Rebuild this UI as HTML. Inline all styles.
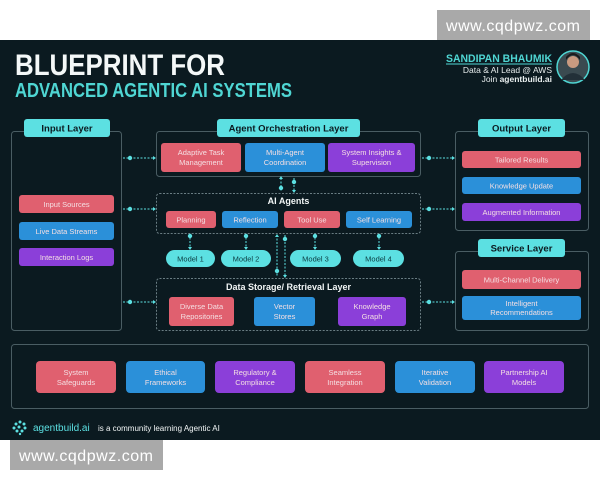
<!DOCTYPE html>
<html><head><meta charset="utf-8"><style>
html,body{margin:0;padding:0;width:600px;height:480px;overflow:hidden;background:#fff}
svg{display:block}
text{font-family:"Liberation Sans",sans-serif}
</style></head><body>
<svg width="600" height="480" viewBox="0 0 600 480" xmlns="http://www.w3.org/2000/svg">
<rect x="0" y="0" width="600" height="480" fill="#fff"/>
<rect x="0" y="40" width="600" height="400" fill="#0b1a20"/>
<!-- watermarks -->
<rect x="437" y="10" width="153" height="30" fill="#a9a9a9"/>
<text x="513" y="31" font-size="16" fill="#fff" text-anchor="middle" textLength="134">www.cqdpwz.com</text>
<rect x="10" y="440" width="153" height="30" fill="#a9a9a9"/>
<text x="86" y="461" font-size="16" fill="#fff" text-anchor="middle" textLength="134">www.cqdpwz.com</text>
<!-- title -->
<text x="15" y="75" font-size="30" font-weight="bold" fill="#f4f8f8" textLength="210" lengthAdjust="spacingAndGlyphs">BLUEPRINT FOR</text>
<text x="15" y="97" font-size="20" font-weight="bold" fill="#4fd6d3" textLength="277" lengthAdjust="spacingAndGlyphs">ADVANCED AGENTIC AI SYSTEMS</text>
<text x="552" y="62" font-size="11" font-weight="bold" fill="#4fd6d3" text-anchor="end" textLength="106" lengthAdjust="spacingAndGlyphs">SANDIPAN BHAUMIK</text>
<line x1="446" y1="64" x2="552" y2="64" stroke="#4fd6d3" stroke-width="1"/>
<text x="552" y="73" font-size="8.5" fill="#e8eeee" text-anchor="end">Data &amp; AI Lead @ AWS</text>
<text x="552" y="82" font-size="8.5" fill="#e8eeee" text-anchor="end">Join <tspan font-weight="bold">agentbuild.ai</tspan></text>
<circle cx="573" cy="67" r="16" fill="#3a4a50" stroke="#4fd6d3" stroke-width="1.5"/>
<circle cx="573" cy="62" r="6" fill="#c89a80"/>
<path d="M561 80 Q573 66 585 80 Z" fill="#223038"/>
<path d="M566 60 Q573 50 580 60 L580 57 Q573 49 566 57 Z" fill="#1a1a1a"/>

<g fill="none" stroke="#4a5d63" stroke-width="1">
<rect x="11.5" y="131.5" width="110" height="199" rx="3"/>
<rect x="156.5" y="131.5" width="264" height="45" rx="3"/>
<rect x="455.5" y="131.5" width="133" height="99" rx="3"/>
<rect x="455.5" y="251.5" width="133" height="79" rx="3"/>
<rect x="11.5" y="344.5" width="577" height="64" rx="3"/>
</g>
<g fill="none" stroke="#6a7d83" stroke-width="1" stroke-dasharray="2,1.5">
<rect x="156.5" y="193.5" width="264" height="40" rx="3"/>
<rect x="156.5" y="278.5" width="264" height="52" rx="3"/>
</g>

<!-- headers -->
<g fill="#5ce0e2">
<rect x="24" y="119" width="86" height="18" rx="3"/>
<rect x="217" y="119" width="143" height="18" rx="3"/>
<rect x="478" y="119" width="87" height="18" rx="3"/>
<rect x="478" y="239" width="87" height="18" rx="3"/>
</g>
<g font-size="9.5" font-weight="bold" fill="#0b1a20" text-anchor="middle">
<text x="67" y="131.5">Input Layer</text>
<text x="288.5" y="131.5">Agent Orchestration Layer</text>
<text x="521.5" y="131.5">Output Layer</text>
<text x="521.5" y="251.5">Service Layer</text>
</g>
<g font-size="9" font-weight="bold" fill="#f2f6f6" text-anchor="middle">
<text x="288.5" y="204">AI Agents</text>
<text x="288.5" y="290">Data Storage/ Retrieval Layer</text>
</g>

<!-- colored boxes -->
<g>
<rect x="161" y="143" width="80" height="29" rx="3" fill="#e0606f"/>
<rect x="245" y="143" width="80" height="29" rx="3" fill="#2b90d9"/>
<rect x="328" y="143" width="87" height="29" rx="3" fill="#8b3fd9"/>
<rect x="462" y="151" width="119" height="17" rx="3" fill="#e0606f"/>
<rect x="462" y="177" width="119" height="17" rx="3" fill="#2b90d9"/>
<rect x="462" y="203" width="119" height="18" rx="3" fill="#8b3fd9"/>
<rect x="462" y="270" width="119" height="19" rx="3" fill="#e0606f"/>
<rect x="462" y="296" width="119" height="24" rx="3" fill="#2b90d9"/>
<rect x="19" y="195" width="95" height="18" rx="3" fill="#e0606f"/>
<rect x="19" y="222" width="95" height="18" rx="3" fill="#2b90d9"/>
<rect x="19" y="248" width="95" height="18" rx="3" fill="#8b3fd9"/>
<rect x="166" y="211" width="50" height="17" rx="3" fill="#e0606f"/>
<rect x="222" y="211" width="56" height="17" rx="3" fill="#2b90d9"/>
<rect x="284" y="211" width="56" height="17" rx="3" fill="#e0606f"/>
<rect x="346" y="211" width="66" height="17" rx="3" fill="#2b90d9"/>
<rect x="169" y="297" width="65" height="29" rx="3" fill="#e0606f"/>
<rect x="254" y="297" width="61" height="29" rx="3" fill="#2b90d9"/>
<rect x="338" y="297" width="68" height="29" rx="3" fill="#8b3fd9"/>
<rect x="36" y="361" width="80" height="32" rx="4" fill="#e0606f"/>
<rect x="126" y="361" width="79" height="32" rx="4" fill="#2b90d9"/>
<rect x="215" y="361" width="80" height="32" rx="4" fill="#8b3fd9"/>
<rect x="305" y="361" width="80" height="32" rx="4" fill="#e0606f"/>
<rect x="395" y="361" width="80" height="32" rx="4" fill="#2b90d9"/>
<rect x="484" y="361" width="80" height="32" rx="4" fill="#8b3fd9"/>
</g>
<g fill="#5ce0e2">
<rect x="166" y="250" width="49" height="17" rx="8.5"/>
<rect x="221" y="250" width="50" height="17" rx="8.5"/>
<rect x="290" y="250" width="51" height="17" rx="8.5"/>
<rect x="353" y="250" width="51" height="17" rx="8.5"/>
</g>
<g font-size="7.5" fill="#f4dfe3" text-anchor="middle">
<text x="201" y="155">Adaptive Task</text><text x="201" y="165">Management</text>
<text x="285" y="155">Multi-Agent</text><text x="285" y="165">Coordination</text>
<text x="371.5" y="155">System Insights &amp;</text><text x="371.5" y="165">Supervision</text>
<text x="521.5" y="162.5">Tailored Results</text>
<text x="521.5" y="188.5">Knowledge Update</text>
<text x="521.5" y="215">Augmented Information</text>
<text x="521.5" y="282.5">Multi-Channel Delivery</text>
<text x="521.5" y="306">Intelligent</text><text x="521.5" y="315">Recommendations</text>
<text x="66.5" y="207">Input Sources</text>
<text x="66.5" y="234">Live Data Streams</text>
<text x="66.5" y="260">Interaction Logs</text>
<text x="191" y="222.5">Planning</text>
<text x="250" y="222.5">Reflection</text>
<text x="312" y="222.5">Tool Use</text>
<text x="379" y="222.5">Self Learning</text>
<text x="201.5" y="309">Diverse Data</text><text x="201.5" y="319">Repositories</text>
<text x="284.5" y="309">Vector</text><text x="284.5" y="319">Stores</text>
<text x="372" y="309">Knowledge</text><text x="372" y="319">Graph</text>
<text x="76" y="375">System</text><text x="76" y="385">Safeguards</text>
<text x="165.5" y="375">Ethical</text><text x="165.5" y="385">Frameworks</text>
<text x="255" y="375">Regulatory &amp;</text><text x="255" y="385">Compliance</text>
<text x="345" y="375">Seamless</text><text x="345" y="385">Integration</text>
<text x="435" y="375">Iterative</text><text x="435" y="385">Validation</text>
<text x="524" y="375">Partnership AI</text><text x="524" y="385">Models</text>
</g>
<g font-size="7.5" fill="#0b3a40" text-anchor="middle">
<text x="190.5" y="261.5">Model 1</text>
<text x="246" y="261.5">Model 2</text>
<text x="315.5" y="261.5">Model 3</text>
<text x="378.5" y="261.5">Model 4</text>
</g>

<!-- connectors -->
<g stroke="#5ce0e2" stroke-width="1" stroke-dasharray="2,1.5" fill="none">
<line x1="123" y1="158" x2="154" y2="158"/>
<line x1="422" y1="158" x2="453" y2="158"/>
<line x1="123" y1="209" x2="154" y2="209"/>
<line x1="422" y1="209" x2="453" y2="209"/>
<line x1="123" y1="302" x2="154" y2="302"/>
<line x1="422" y1="302" x2="453" y2="302"/>
<line x1="281" y1="178" x2="281" y2="192"/>
<line x1="294" y1="178" x2="294" y2="192"/>
<line x1="190" y1="234" x2="190" y2="249"/>
<line x1="246" y1="234" x2="246" y2="249"/>
<line x1="315" y1="234" x2="315" y2="249"/>
<line x1="379" y1="234" x2="379" y2="249"/>
<line x1="277" y1="235" x2="277" y2="277"/>
<line x1="285" y1="235" x2="285" y2="277"/>
</g>
<g fill="#5ce0e2">
<circle cx="130" cy="158" r="2.2"/><circle cx="429" cy="158" r="2.2"/>
<circle cx="130" cy="209" r="2.2"/><circle cx="429" cy="209" r="2.2"/>
<circle cx="130" cy="302" r="2.2"/><circle cx="429" cy="302" r="2.2"/>
<circle cx="281" cy="188" r="2.2"/><circle cx="294" cy="182" r="2.2"/>
<circle cx="190" cy="236" r="2.2"/><circle cx="246" cy="236" r="2.2"/>
<circle cx="315" cy="236" r="2.2"/><circle cx="379" cy="236" r="2.2"/>
<circle cx="277" cy="271" r="2.2"/><circle cx="285" cy="239" r="2.2"/>
<path d="M156 158 l-3 -2 v4z M455 158 l-3 -2 v4z M156 209 l-3 -2 v4z M455 209 l-3 -2 v4z M156 302 l-3 -2 v4z M455 302 l-3 -2 v4z"/>
<path d="M281 176 l-2 3 h4z M294 193 l-2 -3 h4z M190 250 l-2 -3 h4z M246 250 l-2 -3 h4z M315 250 l-2 -3 h4z M379 250 l-2 -3 h4z M277 234 l-2 3 h4z M285 278 l-2 -3 h4z"/>
</g>

<!-- footer -->
<g fill="#5ce0e2">
<circle cx="16" cy="424" r="1.5"/><circle cx="20" cy="422" r="1.5"/><circle cx="24" cy="424" r="1.5"/>
<circle cx="14" cy="428" r="1.5"/><circle cx="19" cy="427" r="1.5"/><circle cx="25" cy="428" r="1.5"/>
<circle cx="17" cy="431" r="1.5"/><circle cx="22" cy="431" r="1.5"/><circle cx="20" cy="434" r="1.2"/>
</g>
<text x="33" y="431" font-size="10" fill="#5ce0e2">agentbuild.ai</text>
<text x="98" y="431" font-size="8" fill="#f2f6f6">is a community learning Agentic AI</text>
</svg>
</body></html>
